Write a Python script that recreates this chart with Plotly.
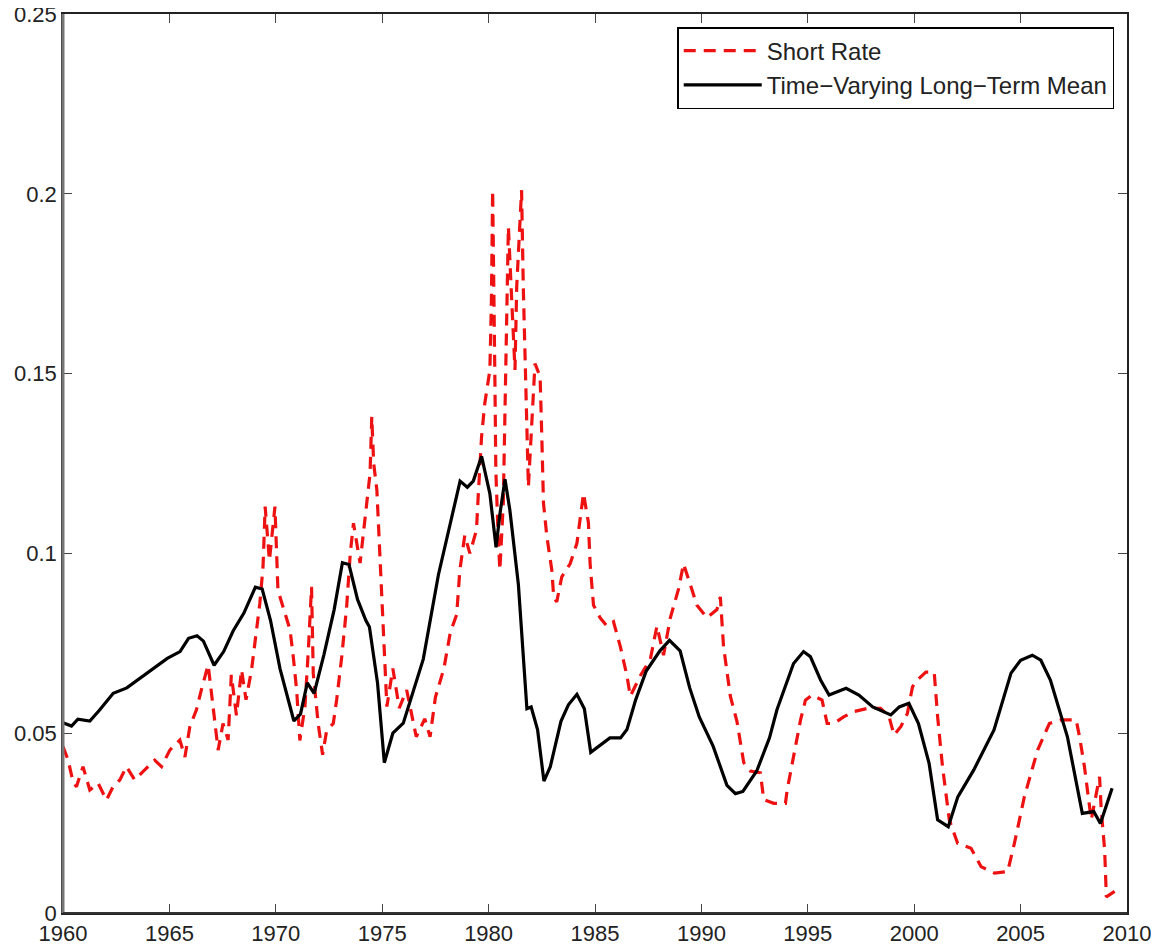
import plotly.graph_objects as go

# Time-Varying Long-Term Mean (solid black)
mean_years = [1960.0, 1960.4, 1960.7, 1961.26, 1961.7, 1962.36, 1963.0, 1963.9, 1964.9, 1965.5,
              1965.9, 1966.3, 1966.6, 1967.1, 1967.55, 1968.0, 1968.5, 1969.04, 1969.36, 1969.75,
              1970.2, 1970.85, 1971.16, 1971.48, 1971.8, 1972.26, 1972.74, 1973.13, 1973.44, 1973.84,
              1974.23, 1974.4, 1974.78, 1975.1, 1975.5, 1975.99, 1976.46, 1976.93, 1977.64, 1978.19,
              1978.66, 1979.0, 1979.28, 1979.67, 1980.06, 1980.35, 1980.53, 1980.77, 1981.0, 1981.4,
              1981.8, 1982.0, 1982.3, 1982.6, 1982.9, 1983.4, 1983.75, 1984.15, 1984.5, 1984.8,
              1985.2, 1985.7, 1986.2, 1986.5, 1986.9, 1987.4, 1988.05, 1988.5, 1989.0, 1989.45,
              1989.9, 1990.55, 1991.2, 1991.6, 1991.95, 1992.6, 1993.2, 1993.55, 1994.33, 1994.8,
              1995.12, 1995.6, 1996.0, 1996.8, 1997.4, 1998.05, 1998.9, 1999.3, 1999.75, 2000.2,
              2000.7, 2001.1, 2001.6, 2002.05, 2002.8, 2003.75, 2004.55, 2005.0, 2005.55, 2005.95,
              2006.4, 2007.2, 2007.9, 2008.44, 2008.75, 2009.3]
mean_values = [0.0529, 0.0520, 0.0539, 0.0534, 0.0563, 0.0611, 0.0626, 0.0664, 0.0708, 0.0727,
               0.0764, 0.0771, 0.0756, 0.0689, 0.0727, 0.0785, 0.0834, 0.0906, 0.0901, 0.0814,
               0.0679, 0.0534, 0.0553, 0.0640, 0.0611, 0.0718, 0.0843, 0.0974, 0.0969, 0.0872,
               0.0814, 0.0795, 0.0640, 0.0418, 0.0500, 0.0528, 0.0614, 0.0706, 0.0940, 0.1086,
               0.1201, 0.1184, 0.1201, 0.1270, 0.1166, 0.1017, 0.1109, 0.1206, 0.1120, 0.0913,
               0.0568, 0.0573, 0.0510, 0.0367, 0.0407, 0.0533, 0.0579, 0.0608, 0.0568, 0.0447,
               0.0464, 0.0487, 0.0487, 0.0510, 0.0591, 0.0672, 0.0729, 0.0758, 0.0729, 0.0626,
               0.0545, 0.0464, 0.0355, 0.0332, 0.0338, 0.0395, 0.0487, 0.0565, 0.0694, 0.0727,
               0.0713, 0.0648, 0.0606, 0.0625, 0.0606, 0.0573, 0.0551, 0.0573, 0.0583, 0.0527,
               0.0416, 0.0259, 0.0240, 0.0323, 0.0398, 0.0509, 0.0667, 0.0703, 0.0717, 0.0703,
               0.0648, 0.0490, 0.0277, 0.0282, 0.0249, 0.0347]

# Short Rate (dashed red)
rate_years = [1960.0, 1960.24, 1960.47, 1960.63, 1960.94, 1961.26, 1961.65, 1962.04, 1962.35, 1962.67,
              1962.98, 1963.37, 1963.84, 1964.31, 1964.63, 1965.02, 1965.49, 1965.73, 1965.96, 1966.27,
              1966.5, 1966.82, 1967.05, 1967.29, 1967.52, 1967.76, 1967.91, 1968.15, 1968.39, 1968.6,
              1968.86, 1969.1, 1969.25, 1969.4, 1969.5, 1969.7, 1969.96, 1970.1, 1970.35, 1970.67,
              1970.82, 1970.98, 1971.13, 1971.37, 1971.53, 1971.68, 1971.76, 1971.99, 1972.2, 1972.39,
              1972.7, 1972.86, 1973.1, 1973.33, 1973.5, 1973.65, 1973.96, 1974.12, 1974.43, 1974.51,
              1974.6, 1974.75, 1974.9, 1975.06, 1975.22, 1975.5, 1975.8, 1976.15, 1976.6, 1977.0,
              1977.25, 1977.5, 1977.9, 1978.2, 1978.5, 1978.65, 1978.88, 1979.12, 1979.43, 1979.51,
              1979.67, 1979.82, 1980.06, 1980.13, 1980.19, 1980.3, 1980.34, 1980.45, 1980.53, 1980.69,
              1980.77, 1980.85, 1980.93, 1981.08, 1981.24, 1981.32, 1981.55, 1981.63, 1981.79, 1981.87,
              1982.18, 1982.42, 1982.5, 1982.58, 1982.74, 1982.97, 1983.06, 1983.2, 1983.44, 1983.83,
              1984.15, 1984.46, 1984.69, 1984.77, 1984.93, 1985.24, 1985.56, 1985.87, 1986.19, 1986.5,
              1986.66, 1987.13, 1987.6, 1987.91, 1988.22, 1988.54, 1988.93, 1989.16, 1989.48, 1989.79,
              1990.26, 1990.73, 1990.89, 1991.04, 1991.36, 1991.67, 1991.99, 1992.3, 1992.77, 1992.93,
              1993.4, 1993.95, 1994.03, 1994.34, 1994.66, 1994.89, 1995.2, 1995.67, 1995.91, 1996.22,
              1996.7, 1997.17, 1997.8, 1998.42, 1998.82, 1999.05, 1999.37, 1999.68, 1999.92, 2000.15,
              2000.55, 2000.94, 2001.1, 2001.33, 2001.65, 2002.04, 2002.67, 2003.14, 2003.77, 2004.39,
              2004.71, 2005.18, 2005.8, 2006.35, 2006.9, 2007.61, 2007.77, 2008.0, 2008.32, 2008.71,
              2008.79, 2008.95, 2009.03, 2009.26, 2009.42]
rate_values = [0.0463, 0.0425, 0.0365, 0.0351, 0.0407, 0.0342, 0.0361, 0.0314, 0.0351, 0.0370,
               0.0407, 0.0370, 0.0398, 0.0425, 0.0407, 0.0453, 0.0481, 0.0434, 0.0518, 0.0565,
               0.0620, 0.0690, 0.0575, 0.0453, 0.0527, 0.0481, 0.0662, 0.0550, 0.0676, 0.0593,
               0.0676, 0.0787, 0.0861, 0.0963, 0.1130, 0.0980, 0.1130, 0.0898, 0.0852, 0.0787,
               0.0713, 0.0620, 0.0480, 0.0574, 0.0732, 0.0907, 0.0667, 0.0527, 0.0440, 0.0508,
               0.0527, 0.0593, 0.0713, 0.0852, 0.1000, 0.1084, 0.0973, 0.1065, 0.1223, 0.1380,
               0.1250, 0.1176, 0.0991, 0.0806, 0.0574, 0.0680, 0.0570, 0.0620, 0.0490, 0.0540,
               0.0490, 0.0600, 0.0680, 0.0780, 0.0830, 0.0954, 0.1050, 0.1000, 0.1065, 0.1158,
               0.1325, 0.1417, 0.1510, 0.1695, 0.2010, 0.1464, 0.1230, 0.1046, 0.0954, 0.1139,
               0.1417, 0.1741, 0.1908, 0.1713, 0.1510, 0.1741, 0.2010, 0.1741, 0.1417, 0.1185,
               0.1528, 0.1492, 0.1325, 0.1139, 0.1046, 0.0954, 0.0879, 0.0865, 0.0935, 0.0971,
               0.1028, 0.1167, 0.1086, 0.0971, 0.0856, 0.0821, 0.0798, 0.0810, 0.0741, 0.0660,
               0.0603, 0.0660, 0.0706, 0.0798, 0.0717, 0.0821, 0.0902, 0.0971, 0.0913, 0.0856,
               0.0821, 0.0844, 0.0879, 0.0741, 0.0603, 0.0533, 0.0418, 0.0395, 0.0390, 0.0315,
               0.0305, 0.0305, 0.0342, 0.0434, 0.0537, 0.0592, 0.0606, 0.0592, 0.0527, 0.0527,
               0.0546, 0.0560, 0.0569, 0.0569, 0.0546, 0.0495, 0.0518, 0.0555, 0.0629, 0.0648,
               0.0670, 0.0670, 0.0546, 0.0407, 0.0259, 0.0194, 0.0180, 0.0129, 0.0111, 0.0115,
               0.0194, 0.0324, 0.0453, 0.0527, 0.0537, 0.0537, 0.0490, 0.0407, 0.0259, 0.0379,
               0.0286, 0.0175, 0.0045, 0.0054, 0.0060]

x_ticks = [1960, 1965, 1970, 1975, 1980, 1985, 1990, 1995, 2000, 2005, 2010]
y_ticks = [0, 0.05, 0.1, 0.15, 0.2, 0.25]
y_tick_labels = ["0", "0.05", "0.1", "0.15", "0.2", "0.25"]

FONT = "Liberation Sans, Arial, Helvetica, sans-serif"

fig = go.Figure()
fig.add_trace(go.Scatter(
    x=rate_years, y=rate_values, mode="lines", name="Short Rate",
    line=dict(color="#ee1111", width=3.2, dash="12px,8px"),
))
fig.add_trace(go.Scatter(
    x=mean_years, y=mean_values, mode="lines", name="Time\u2212Varying Long\u2212Term Mean",
    line=dict(color="#000000", width=3.2),
))

fig.update_layout(
    width=1151, height=943,
    margin=dict(l=55, r=32, t=6, b=38),
    paper_bgcolor="white", plot_bgcolor="white",
    font=dict(family=FONT, size=22, color="#222222"),
    showlegend=True,
    legend=dict(
        x=0.988, y=0.9855, xanchor="right", yanchor="top",
        bordercolor="#000000", borderwidth=1.5, bgcolor="white",
        font=dict(size=24, color="#222222"),
        itemwidth=78, tracegroupgap=0,
    ),
    xaxis=dict(
        range=[1960, 2010], tickvals=x_ticks, ticktext=[str(t) for t in x_ticks],
        showgrid=False, zeroline=False, showline=True, linecolor="#222222", linewidth=1.5,
        mirror="ticks", ticks="inside", ticklen=9, tickwidth=1, tickcolor="#444444",
        tickfont=dict(size=22, color="#222222"), automargin=False,
        ticklabeloverflow="allow",
    ),
    yaxis=dict(
        range=[0, 0.25], tickvals=y_ticks, ticktext=y_tick_labels,
        showgrid=False, zeroline=False, showline=True, linecolor="#222222", linewidth=1.5,
        mirror="ticks", ticks="inside", ticklen=9, tickwidth=1, tickcolor="#444444",
        tickfont=dict(size=22, color="#222222"), automargin=False,
        ticklabeloverflow="allow",
    ),
    shapes=[
        dict(type="line", xref="paper", yref="paper", x0=0, x1=0, y0=0, y1=1,
             line=dict(color="#777777", width=3)),
        dict(type="line", xref="paper", yref="paper", x0=0, x1=1, y0=0, y1=0,
             line=dict(color="#333333", width=2.2)),
    ],
)

fig.write_html("out.html")
